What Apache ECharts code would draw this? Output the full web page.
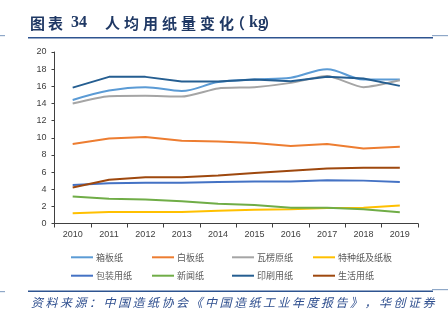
<!DOCTYPE html>
<html><head><meta charset="utf-8">
<script src="https://cdn.jsdelivr.net/npm/echarts@6/dist/echarts.min.js"></script>
<style>html,body{margin:0;padding:0;background:#fff}#c{width:448px;height:327px}</style>
</head><body><div id="c"></div>
<script>
var years = ['2010','2011','2012','2013','2014','2015','2016','2017','2018','2019'];
var yTicks = [0,2,4,6,8,10,12,14,16,18,20];
var names = ['箱板纸','白板纸','瓦楞原纸','特种纸及纸板','包装用纸','新闻纸','印刷用纸','生活用纸'];
var xiangban   = [14.4, 15.5, 15.9, 15.45, 16.5, 16.8, 17.0, 18.0, 16.8, 16.8];
var baiban     = [9.26, 9.9, 10.1, 9.65, 9.55, 9.4, 9.05, 9.26, 8.75, 8.95];
var walengyuan = [14.0, 14.85, 14.9, 14.8, 15.75, 15.9, 16.4, 17.2, 15.9, 16.7];
var tezhong    = [1.2, 1.35, 1.35, 1.35, 1.5, 1.6, 1.65, 1.8, 1.85, 2.1];
var baozhuang  = [4.5, 4.7, 4.75, 4.75, 4.85, 4.9, 4.9, 5.05, 5.0, 4.85];
var xinwen     = [3.15, 2.9, 2.8, 2.6, 2.3, 2.15, 1.85, 1.85, 1.65, 1.3];
var yinshua    = [15.85, 17.1, 17.1, 16.55, 16.55, 16.8, 16.6, 17.1, 16.9, 16.05];
var shenghuo   = [4.2, 5.1, 5.4, 5.4, 5.6, 5.9, 6.15, 6.4, 6.5, 6.5];
var seriesData = [xiangban, baiban, walengyuan, tezhong, baozhuang, xinwen, yinshua, shenghuo];
var colors = ['#5B9BD5','#ED7D31','#A5A5A5','#FFC000','#4472C4','#70AD47','#255E91','#9E480E'];
var smoothFlags = [0.35, 0, 0.2, 0, 0, 0, 0, 0];

function spaced(str, x, y, adv, style) {
  var arr = [];
  for (var i = 0; i < str.length; i++) {
    arr.push({type:'text', x: x + i*adv, y: y,
      style: Object.assign({text: str[i], verticalAlign:'middle'}, style)});
  }
  return arr;
}
var navy = '#1F3864';
var titleCJK = {font:'bold 15px "Noto Sans CJK SC"', fill: navy};
var titleLat = {font:'bold 16px "Liberation Serif"', fill: navy};
var srcStyle = {font:'italic 12px "Noto Sans CJK SC"', fill: '#2F4F8F'};

var graphics = [];
graphics = graphics.concat(spaced('图表', 30, 23, 18, titleCJK));
graphics.push({type:'text', x:71, y:23, style:Object.assign({text:'34', verticalAlign:'middle'}, titleLat)});
graphics = graphics.concat(spaced('人均用纸量变化', 105, 23, 19, titleCJK));
graphics.push({type:'text', x:230, y:23, style:Object.assign({text:'（', verticalAlign:'middle'}, titleCJK)});
graphics.push({type:'text', x:249, y:23, style:Object.assign({text:'kg', verticalAlign:'middle'}, titleLat)});
graphics.push({type:'text', x:263, y:23, style:Object.assign({text:'）', verticalAlign:'middle'}, titleCJK)});
graphics.push({type:'rect', shape:{x:28,y:37,width:405,height:1.6}, style:{fill:'#2E5490'}});
graphics.push({type:'rect', shape:{x:0,y:35,width:5,height:1.2}, style:{fill:'#8FA8C8'}});
graphics.push({type:'rect', shape:{x:432,y:35,width:16,height:1.2}, style:{fill:'#8FA8C8'}});
graphics.push({type:'rect', shape:{x:28,y:290.5,width:405,height:1.6}, style:{fill:'#2E5490'}});
graphics.push({type:'rect', shape:{x:0,y:291,width:5,height:1.2}, style:{fill:'#8FA8C8'}});
graphics.push({type:'rect', shape:{x:432,y:289,width:16,height:1.2}, style:{fill:'#8FA8C8'}});
graphics = graphics.concat(spaced('资料来源：中国造纸协会《中国造纸工业年度报告》，华创证券', 31, 302, 14.5, srcStyle));

var series = names.map(function(n, i){
  return {name:n, type:'line', data: seriesData[i], symbol:'none', smooth: smoothFlags[i] || false,
    lineStyle:{width:2, color: colors[i]}, itemStyle:{color: colors[i]}, z: 10 - (i===6?0:1)};
});

var legendCols = [[names[0],names[4]],[names[1],names[5]],[names[2],names[6]],[names[3],names[7]]];
var legendLefts = [71, 152, 232, 313];
var legends = legendCols.map(function(d, i){
  return {data:d, orient:'vertical', left: legendLefts[i], top: 252.3, icon:'rect',
    itemWidth:22, itemHeight:2, itemGap:8.4, padding:0,
    textStyle:{fontSize:9, lineHeight:10, color:'#595959', fontFamily:'"Noto Sans CJK SC"', padding:[0,0,0,-2]}};
});

var chart = echarts.init(document.getElementById('c'), null, {renderer:'canvas'});
chart.setOption({
  animation:false,
  backgroundColor:'#fff',
  color: colors,
  grid:{left:54.5, right:30, top:52, bottom:103.5, containLabel:false},
  legend: legends,
  xAxis:{type:'category', data: years, boundaryGap:true,
    axisLine:{lineStyle:{color:'#404040', width:1}},
    axisTick:{show:true, length:4, lineStyle:{color:'#404040'}},
    axisLabel:{fontSize:9, color:'#404040', fontFamily:'"Liberation Sans"', margin:7}},
  yAxis:{type:'value', min:0, max:20, interval:2,
    axisLine:{show:true, lineStyle:{color:'#404040', width:1}},
    axisTick:{show:true, length:3, lineStyle:{color:'#404040'}},
    axisLabel:{fontSize:9, color:'#404040', fontFamily:'"Liberation Sans"', margin:8,
      formatter:function(v){return yTicks.indexOf(v) >= 0 ? String(v) : '';}},
    splitLine:{show:false}},
  series: series,
  graphic: graphics
});
</script></body></html>
